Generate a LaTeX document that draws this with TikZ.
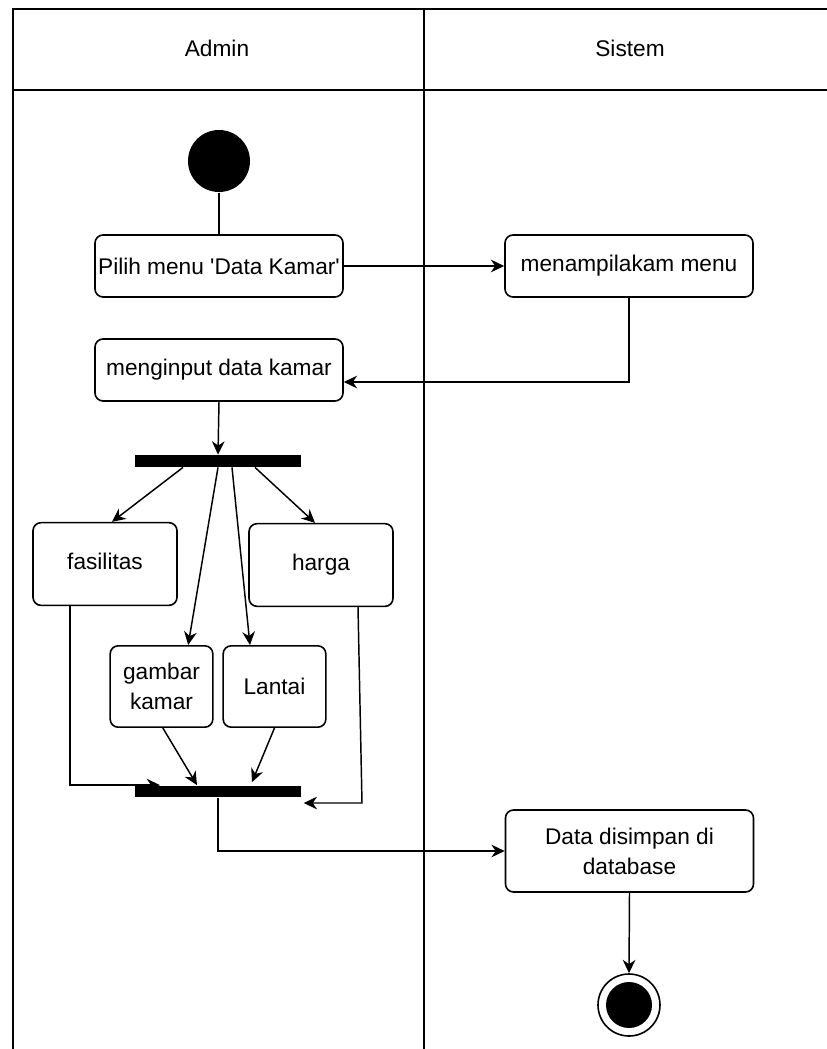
\documentclass[tikz,border=0pt]{standalone}
\usepackage{fontspec}
\setmainfont{Liberation Sans}
\usepackage{tikz}
\usetikzlibrary{positioning,arrows.meta}

\begin{document}
\begin{tikzpicture}[
  x=0.75pt, y=-0.75pt,
  line width=1.1pt,
  box/.style={draw, line width=1.2pt, fill=white, rounded corners=6pt, align=center,
    inner sep=1pt, font=\fontsize{17}{22.5}\selectfont},
  wide/.style={box, minimum width=186pt, minimum height=46.5pt},
  part/.style={box, minimum width=108pt, minimum height=62pt, text height=12pt, text depth=3.5pt},
  small/.style={box, minimum width=77pt, minimum height=61pt},
  bar/.style={fill=black, inner sep=0pt, minimum width=124.5pt, minimum height=8.5pt},
  lane/.style={font=\fontsize{17}{20}\selectfont},
  arr/.style={-{Stealth[length=10pt, width=9.5pt]}}
]
\useasboundingbox (0,0) rectangle (827,1049);

\draw (13,1049) -- (13,9) -- (827,9);
\draw (13,90) -- (827,90);
\draw (424,9) -- (424,1049);
\node[lane] (hadmin) at (217,48) {Admin};
\node[lane] (hsistem) at (630,48) {Sistem};

\node[circle, fill=black, minimum size=46.5pt, inner sep=0pt] (start) at (219,161) {};
\node[wide] (pilih) at (219,266) {Pilih menu \textquotesingle Data Kamar\textquotesingle};
\node[wide] (tampil) at (629,266) {menampilakam menu};
\node[wide] (input) at (219,370) {menginput data kamar};
\node[bar] (fork) at (218,461) {};
\node[part] (fasilitas) at (105,564) {fasilitas};
\node[part] (harga) at (321,565) {harga};
\node[small] (gambar) at (161.5,686.5) {gambar\\kamar};
\node[small] (lantai) at (274.5,686.5) {Lantai};
\node[bar] (join) at (218,791.5) {};
\node[wide, minimum height=61.5pt] (simpan) at (629.5,851) {Data disimpan di\\database};
\node[circle, draw, line width=1.2pt, minimum size=46.5pt, inner sep=0pt] (endo) at (629,1005) {};
\node[circle, fill=black, minimum size=34.5pt, inner sep=0pt] (endi) at (endo) {};

\draw (start.south) -- (pilih.north);
\draw[arr] (pilih.east) -- (tampil.west);
\draw[arr] (tampil.south) |- ([yshift=-9pt]input.east);
\draw[arr] (input.south) -- (fork.north);
\draw[arr] ([xshift=-26.25pt]fork.south) -- ([xshift=5.25pt]fasilitas.north);
\draw[arr] (fork.south) -- ([xshift=20pt]gambar.north);
\draw[arr] ([xshift=10.5pt]fork.south) -- ([xshift=-18.4pt]lantai.north);
\draw[arr] ([xshift=27.75pt]fork.south) -- ([xshift=-4.5pt]harga.north);
\draw[arr] ([xshift=-26.25pt]fasilitas.south) |- ([xshift=-43.5pt]join.north);
\draw[arr] ([xshift=1pt]gambar.south) -- ([xshift=-15.75pt]join.north);
\draw[arr] (lantai.south) -- ([xshift=25.5pt, yshift=2.25pt]join.north);
\coordinate (hj) at (362,803);
\draw[arr] ([xshift=27.75pt]harga.south) -- (hj) -- ([xshift=1.5pt]join.east |- hj);
\draw[arr] (join.south) |- (simpan.west);
\draw[arr] (simpan.south) -- (endo.north);
\end{tikzpicture}
\end{document}
